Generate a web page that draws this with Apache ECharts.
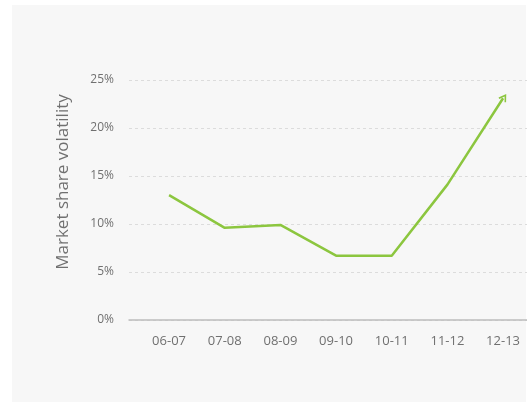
<!DOCTYPE html>
<html>
<head>
<meta charset="utf-8">
<script src="https://cdn.jsdelivr.net/npm/echarts@6/dist/echarts.min.js"></script>
<style>
  html, body { margin: 0; padding: 0; background: #fff; }
  #chart { width: 527px; height: 403px; }
</style>
</head>
<body>
<div id="chart"></div>
<script>
const periods = ["06-07", "07-08", "08-09", "09-10", "10-11", "11-12", "12-13"];
const volatility = [13, 9.6, 9.9, 6.7, 6.7, 14.1, 23.1];
const yTicks = [0, 5, 10, 15, 20, 25];

const textFont = "Open Sans";
const green = "#8cc63f";

const chart = echarts.init(document.getElementById("chart"));

// last point carries the arrow head
const seriesData = volatility.map((v, i) => {
  const item = { value: [i, v] };
  if (i === volatility.length - 1) {
    item.symbol = "path://M0,9 L6,0 L12,9 L10.2,10 L6,3.8 L1.8,10 Z";
    item.symbolSize = [9, 8];
    item.symbolRotate = -33;
    item.symbolOffset = [1, -1];
  }
  return item;
});

const option = {
  backgroundColor: "#fff",
  graphic: [
    {
      type: "rect",
      left: 12,
      top: 5,
      shape: { width: 514, height: 397 },
      style: { fill: "#f7f7f7" },
      z: -10,
      silent: true,
    },
  ],
  grid: {
    left: 129,
    right: 0,
    top: 80,
    bottom: 83,
  },
  xAxis: {
    type: "value",
    min: -0.72,
    max: 6.43,
    splitLine: { show: false },
    axisTick: { show: false },
    axisLine: {
      show: true,
      lineStyle: { color: "#bdbdbd", width: 1.5 },
    },
    axisLabel: {
      customValues: periods.map((p, i) => i),
      formatter: (v) => periods[Math.round(v)],
      color: "#707070",
      fontFamily: textFont,
      fontSize: 13,
      margin: 15,
    },
  },
  yAxis: {
    type: "value",
    min: 0,
    max: 25,
    interval: 5,
    axisLine: { show: false },
    axisTick: { show: false },
    axisLabel: {
      customValues: yTicks,
      formatter: "{value}%",
      color: "#707070",
      fontFamily: textFont,
      fontSize: 12,
      margin: 15,
    },
    splitLine: {
      lineStyle: { color: "#dcdcdc", type: [3, 3], width: 1 },
    },
    name: "Market share volatility",
    nameLocation: "middle",
    nameGap: 57,
    nameTextStyle: {
      color: "#707070",
      fontFamily: textFont,
      fontSize: 17,
      padding: [0, 0, 0, 36],
    },
  },
  series: [
    {
      type: "line",
      data: seriesData,
      symbol: "none",
      showSymbol: true,
      animation: false,
      lineStyle: { color: green, width: 2.5 },
      itemStyle: { color: green },
    },
  ],
};

chart.setOption(option);
</script>
</body>
</html>
